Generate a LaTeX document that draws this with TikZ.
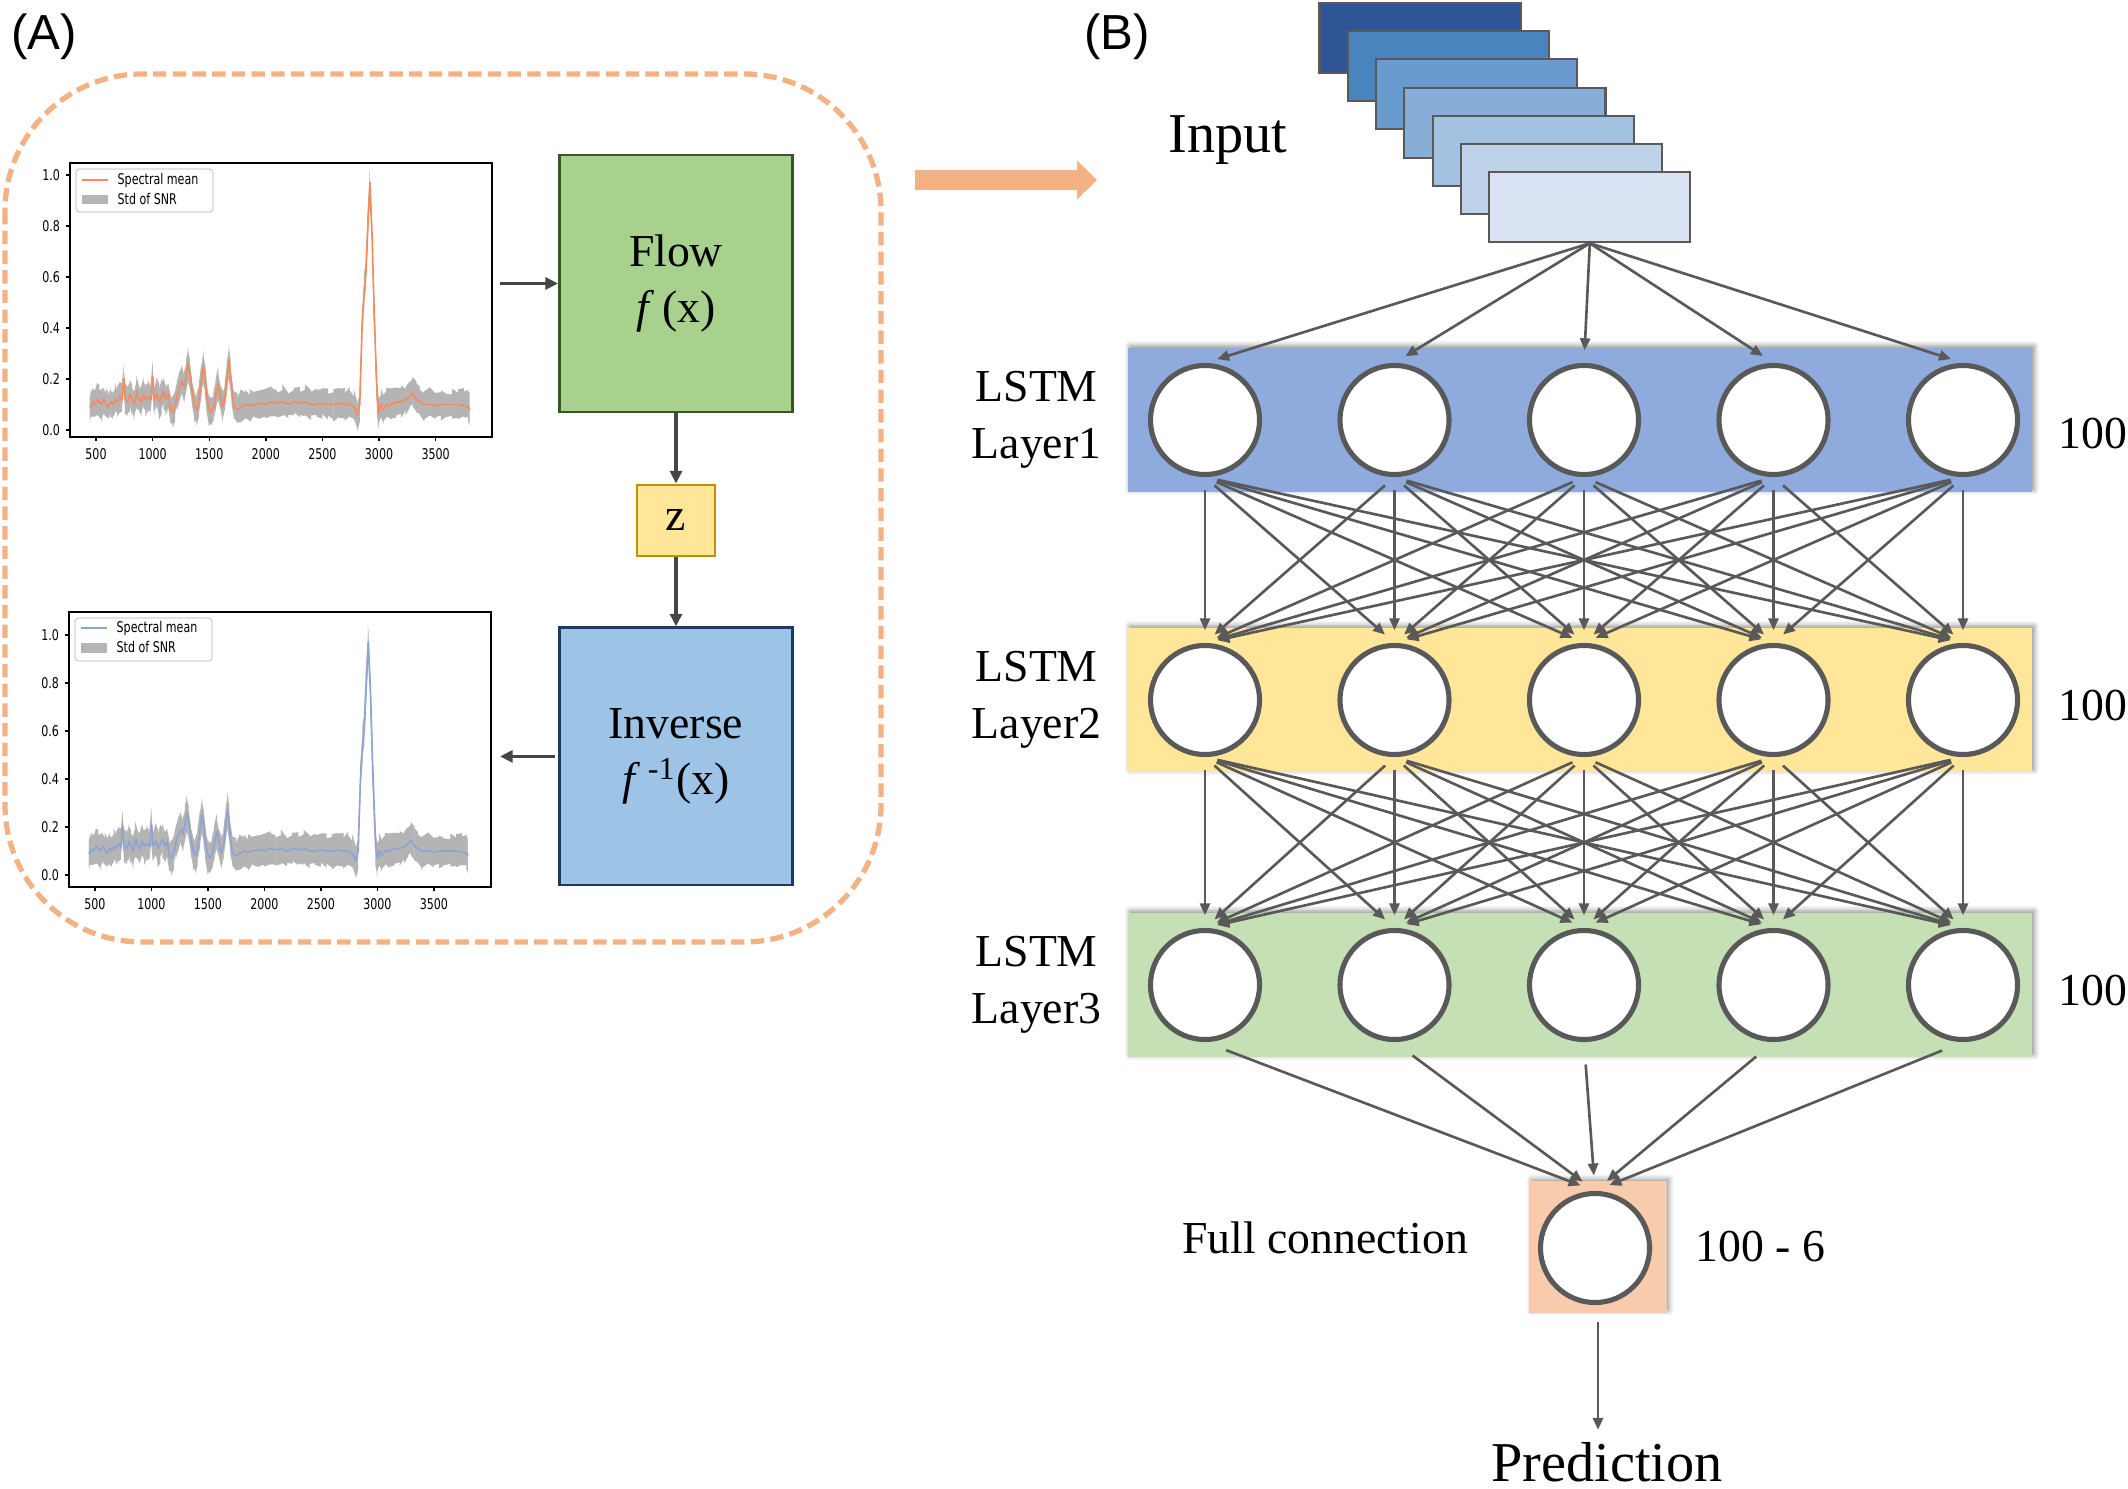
\documentclass[tikz,border=0pt]{standalone}
\usepackage{graphicx}
\usepackage{fontspec}
\setmainfont{Liberation Serif}
\newfontfamily\panelfont{Liberation Sans}
\newfontfamily\plotfont{DejaVu Sans}
\usetikzlibrary{positioning, arrows.meta, calc, shadows.blur}

\definecolor{linegray}{HTML}{595959}
\definecolor{arrowdark}{HTML}{464646}
\definecolor{dashorange}{HTML}{F4B183}
\definecolor{flowgreen}{HTML}{A9D18E}
\definecolor{flowborder}{HTML}{385723}
\definecolor{zyellow}{HTML}{FFE699}
\definecolor{zborder}{HTML}{BF9000}
\definecolor{invblue}{HTML}{9DC3E6}
\definecolor{invborder}{HTML}{1F3864}
\definecolor{layerblue}{HTML}{8FAADC}
\definecolor{layeryellow}{HTML}{FFE699}
\definecolor{layergreen}{HTML}{C5E0B4}
\definecolor{fcorange}{HTML}{F8CBAD}
\definecolor{bandgray}{HTML}{B4B4B4}
\definecolor{legendgray}{HTML}{D4D4D4}
\definecolor{meanorange}{HTML}{F7895A}
\definecolor{meanblue}{HTML}{8EA3D4}
\definecolor{inA}{HTML}{2F5597}
\definecolor{inB}{HTML}{4A84BF}
\definecolor{inC}{HTML}{6A9BCE}
\definecolor{inD}{HTML}{87AED7}
\definecolor{inE}{HTML}{A3C1E1}
\definecolor{inF}{HTML}{BED3EA}
\definecolor{inG}{HTML}{DAE3F3}

\newcommand{\squeeze}[1]{\scalebox{0.75}[1]{#1}}
\def\specdata{450/0.09,470/0.11,490/0.10,510/0.12,530/0.11,550/0.10,570/0.12,590/0.10,610/0.09,630/0.11,650/0.10,670/0.12,690/0.11,710/0.13,730/0.12,745/0.20,760/0.12,780/0.11,800/0.14,820/0.12,840/0.10,860/0.15,880/0.12,900/0.11,920/0.14,940/0.12,960/0.13,985/0.12,1000/0.21,1015/0.12,1040/0.14,1060/0.11,1080/0.13,1100/0.15,1120/0.12,1140/0.14,1160/0.08,1180/0.07,1200/0.10,1220/0.14,1240/0.17,1260/0.19,1280/0.17,1300/0.22,1315/0.26,1330/0.22,1350/0.15,1370/0.10,1390/0.08,1410/0.11,1430/0.19,1450/0.25,1465/0.20,1480/0.13,1500/0.08,1520/0.07,1540/0.09,1560/0.14,1580/0.18,1600/0.13,1620/0.09,1640/0.13,1660/0.22,1675/0.27,1690/0.21,1705/0.13,1720/0.09,1750/0.08,1780/0.09,1820/0.10,1860/0.095,1900/0.10,1950/0.105,2000/0.10,2050/0.11,2100/0.105,2150/0.11,2200/0.10,2250/0.11,2300/0.105,2350/0.11,2400/0.10,2450/0.10,2500/0.105,2550/0.10,2600/0.10,2650/0.105,2700/0.10,2740/0.10,2780/0.09,2810/0.06,2830/0.10,2850/0.40,2870/0.55,2885/0.62,2900/0.78,2920/0.97,2940/0.75,2955/0.50,2970/0.30,2985/0.12,3000/0.07,3020/0.10,3040/0.08,3070/0.10,3110/0.10,3150/0.11,3200/0.11,3240/0.12,3270/0.13,3300/0.145,3330/0.12,3360/0.11,3400/0.10,3450/0.10,3500/0.095,3550/0.10,3600/0.10,3650/0.10,3700/0.10,3750/0.095,3790/0.09,3800/0.08}
\newcommand{\spectrum}[2]{%
  \pgfmathsetseed{11}%
  \foreach \sx/\sy [remember=\sx as \lx (initially 450), remember=\sy as \ly (initially 0.09)] in \specdata {
    \pgfmathsetmacro\ua{\ly+#2+0.03*rnd}
    \pgfmathsetmacro\ub{\sy+#2+0.03*rnd}
    \pgfmathsetmacro\la{\ly-#2-0.03*rnd}
    \pgfmathsetmacro\lb{\sy-#2-0.03*rnd}
    \fill[bandgray] (\lx-4,\ua) -- (\sx,\ub) -- (\sx,\lb) -- (\lx-4,\la) -- cycle;
  }
  \foreach \sx/\sy [remember=\sx as \lx (initially 450), remember=\sy as \ly (initially 0.09)] in \specdata
    \draw[#1, line width=0.45pt, line cap=round] (\lx,\ly) -- (\sx,\sy);
}

\tikzset{
  sheet/.style={draw=linegray, line width=0.6pt, minimum width=2.01cm, minimum height=0.70cm, inner sep=0pt},
  band/.style={minimum width=9.04cm, minimum height=1.44cm, inner sep=0pt,
    blur shadow={shadow xshift=0.6pt, shadow yshift=0.6pt, shadow blur radius=1.5pt, shadow opacity=45}},
  neuron/.style={circle, draw=linegray, fill=white, line width=1.45pt, minimum size=1.09cm, inner sep=0pt},
  conn/.style={-{Triangle[length=3.4pt,width=2.9pt]}, linegray, line width=0.75pt, shorten <=3.6pt, shorten >=3.6pt},
  block/.style={draw, line width=0.8pt, minimum width=2.33cm, minimum height=2.57cm, align=center, inner sep=0pt, font=\fontsize{13}{16.2}\selectfont},
  flowarrow/.style={-{Triangle[length=3.6pt,width=3.4pt]}, draw=arrowdark, line width=1pt},
  txt/.style={inner sep=0pt, align=center, font=\fontsize{13}{16.2}\selectfont},
  bigtxt/.style={inner sep=0pt, font=\fontsize{16}{19}\selectfont},
  ticklabel/.style={inner sep=0pt, font=\plotfont\fontsize{4.2}{5}\selectfont},
  frame/.style={draw, line width=0.5pt, minimum width=4.22cm, inner sep=0pt}
}

\begin{document}
\begin{tikzpicture}[x=0.01cm, y=-0.01cm]
\useasboundingbox (0,0) rectangle (2128,1489);

\node[font=\panelfont\fontsize{14}{16}\selectfont] (labelA) at (44,37) {(A)};
\node[font=\panelfont\fontsize{14}{16}\selectfont] (labelB) at (1117,37) {(B)};

\draw[dashorange, line width=1.5pt, dash pattern=on 3.8pt off 1.8pt, rounded corners=1.37cm] (5,74) rectangle (881,942);

\node[frame, minimum height=2.74cm] (plotA) at (281,300) {};
\node[frame, minimum height=2.75cm] (plotB) at (280,749.5) {};

\begin{scope}[shift={(39.4,430)}, xscale=0.1132, yscale=-255]
  \spectrum{meanorange}{0.04}
\end{scope}
\begin{scope}[shift={(38.4,875)}, xscale=0.113, yscale=-240]
  \spectrum{meanblue}{0.05}
\end{scope}

\foreach \tk in {500,1000,...,3500} {
  \draw[line width=0.4pt] ({39.4+0.1132*\tk},437) -- ++(0,4) node[ticklabel, below=2pt] {\squeeze{\tk}};
  \draw[line width=0.4pt] ({38.4+0.113*\tk},887) -- ++(0,4) node[ticklabel, below=2pt] {\squeeze{\tk}};
}
\foreach \tk/\lab in {0/0.0,1/0.2,2/0.4,3/0.6,4/0.8,5/1.0} {
  \draw[line width=0.4pt] (70,{430-51*\tk}) -- ++(-4,0) node[ticklabel, left=1.5pt] {\squeeze{\lab}};
  \draw[line width=0.4pt] (69,{875-48*\tk}) -- ++(-4,0) node[ticklabel, left=1.5pt] {\squeeze{\lab}};
}

\draw[legendgray, fill=white, rounded corners=1pt, line width=0.4pt] (76,169) rectangle (213,212);
\draw[meanorange, line width=0.5pt] (82,180) -- (108,180);
\fill[bandgray] (82,195) rectangle (108,204);
\node[ticklabel, anchor=west] (legA1) at (117,180) {\squeeze{Spectral mean}};
\node[ticklabel, anchor=west] (legA2) at (117,199) {\squeeze{Std of SNR}};

\draw[legendgray, fill=white, rounded corners=1pt, line width=0.4pt] (75,618) rectangle (212,661);
\draw[meanblue, line width=0.5pt] (81,628) -- (107,628);
\fill[bandgray] (81,643) rectangle (107,653);
\node[ticklabel, anchor=west] (legB1) at (116,628) {\squeeze{Spectral mean}};
\node[ticklabel, anchor=west] (legB2) at (116,647) {\squeeze{Std of SNR}};

\node[block, fill=flowgreen, draw=flowborder] (flow) at (676,283.5) {Flow\\\textit{f}\,(x)};
\node[block, fill=zyellow, draw=zborder, minimum width=0.78cm, minimum height=0.71cm, below=0.7cm of flow] (z) {z};
\node[block, fill=invblue, draw=invborder, below=0.69cm of z] (inv) {Inverse\\\textit{f}\,\textsuperscript{-1}(x)};

\draw[flowarrow, shorten <=0.07cm] (plotA.east |- flow.west) -- (flow.west);
\draw[flowarrow] (flow) -- (z);
\draw[flowarrow] (z) -- (inv);
\draw[flowarrow, shorten <=0.03cm, shorten >=0.08cm] (inv.west) -- (inv.west -| plotB.east);

\coordinate (arrowtail) at (915,180);
\coordinate (arrowhead) at (1097,180);
\draw[dashorange, line width=0.2cm, -{Triangle[length=0.2cm,width=0.38cm]}] (arrowtail) -- (arrowhead);

\foreach \i/\col in {0/inA,1/inB,2/inC,3/inD,4/inE,5/inF,6/inG}
  \node[sheet, fill=\col] (in\i) at ({1420+28.3*\i},{38+28.2*\i}) {};
\node[bigtxt] (inputlabel) at (1228,140) {Input};

\foreach \lay/\yy/\col/\dy in {1/420/layerblue/-0.14cm, 2/700/layeryellow/-0.06cm, 3/985/layergreen/-0.06cm} {
  \node[band, fill=\col] (band\lay) at (1580,\yy) {};
  \foreach \j in {1,...,5}
    \node[neuron] (n\lay-\j) at ({1205+189.5*(\j-1)},\yy) {};
  \node[txt, left=0.25cm of band\lay] (name\lay) {LSTM\\Layer\lay};
  \node[txt, right=0.25cm of band\lay, yshift=\dy] (size\lay) {100};
}

\node[band, fill=fcorange, minimum width=1.37cm, minimum height=1.31cm] (fcbox) at (1598,1247) {};
\node[neuron] (fc) at (1595,1248) {};
\node[txt, left=0.6cm of fcbox, yshift=0.09cm] (fcname) {Full connection};
\node[txt, right=0.28cm of fcbox] (fcsize) {100 - 6};
\node[bigtxt, anchor=base] (pred) at (1607,1481) {Prediction};

\path[conn]
  \foreach \j in {1,...,5} {
    (in6.south) edge[shorten <=0pt] (n1-\j.north)
    (n3-\j.south) edge[shorten <=0.225cm, shorten >=0.155cm] (fc.north)
  }
  \foreach \i in {1,...,5} {
    \foreach \j in {1,...,5} {
      (n1-\i.south) edge (n2-\j.north)
      (n2-\i.south) edge (n3-\j.north)
    }
  }
  (fcbox.south) edge[shorten <=0.09cm, shorten >=0.115cm] (fcbox.south |- pred.north)
  ;
\end{tikzpicture}
\end{document}
